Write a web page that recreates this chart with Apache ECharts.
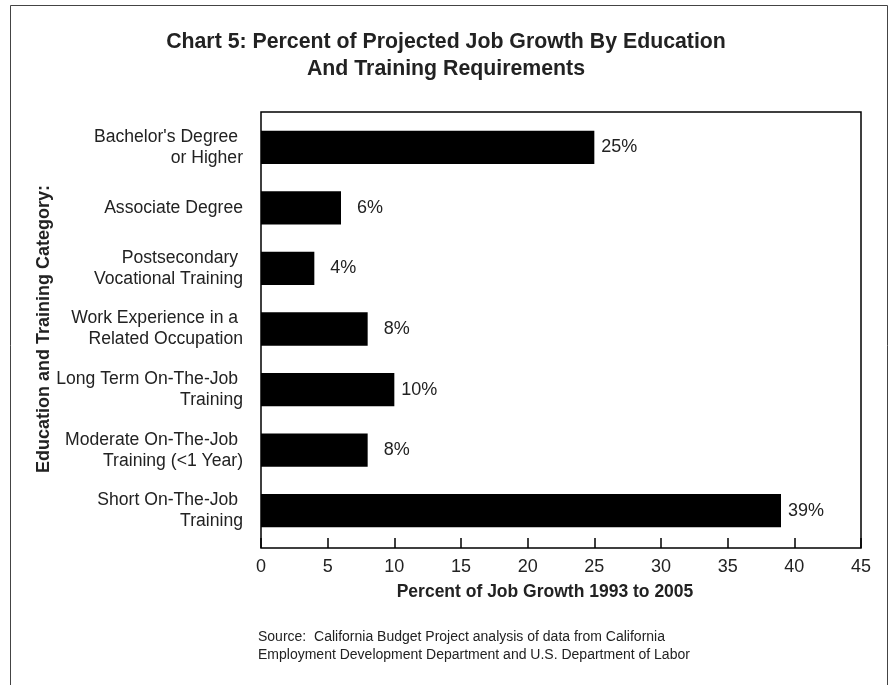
<!DOCTYPE html>
<html>
<head>
<meta charset="utf-8">
<script src="https://cdn.jsdelivr.net/npm/echarts@6/dist/echarts.min.js"></script>
<style>
html,body{margin:0;padding:0;background:#fff;}
#chart{width:892px;height:685px;}
</style>
</head>
<body>
<div id="chart"></div>
<script>
const titleText = "Chart 5: Percent of Projected Job Growth By Education\nAnd Training Requirements";
const categories = [
  "Bachelor's Degree \nor Higher",
  "Associate Degree",
  "Postsecondary \nVocational Training",
  "Work Experience in a \nRelated Occupation",
  "Long Term On-The-Job \nTraining",
  "Moderate On-The-Job \nTraining (<1 Year)",
  "Short On-The-Job \nTraining"
];
const values = [25, 6, 4, 8, 10, 8, 39];
const xTicks = { min: 0, max: 45, interval: 5 };
const xAxisName = "Percent of Job Growth 1993 to 2005";
const yAxisName = "Education and Training Category:";
const sourceText = "Source:  California Budget Project analysis of data from California\nEmployment Development Department and U.S. Department of Labor";

const FONT = "'Liberation Sans', Arial, Helvetica, sans-serif";
const TXT = "#222";

const chart = echarts.init(document.getElementById('chart'), null, {renderer: 'canvas'});
chart.setOption({
  backgroundColor: '#fff',
  animation: false,
  title: [
    {
      text: titleText,
      left: 'center',
      top: 24,
      padding: [5, 5, 5, 11],
      textStyle: {fontFamily: FONT, fontSize: 21.3, fontWeight: 'bold', color: TXT, lineHeight: 27, align: 'center'}
    },
    {
      text: sourceText,
      left: 253,
      top: 623,
      textStyle: {fontFamily: FONT, fontSize: 14, fontWeight: 'normal', color: TXT, lineHeight: 18}
    }
  ],
  graphic: [
    {
      type: 'rect',
      silent: true,
      shape: {x: 10.5, y: 5.5, width: 877, height: 720},
      style: {fill: 'none', stroke: '#444', lineWidth: 1}
    }
  ],
  grid: [
    {left: 261, width: 600, top: 117, height: 424, containLabel: false},
    {left: 261, width: 600, top: 112, height: 436, show: true, borderColor: '#000', borderWidth: 1.5, backgroundColor: 'transparent'}
  ],
  xAxis: [{
    type: 'value',
    gridIndex: 0,
    min: xTicks.min, max: xTicks.max, interval: xTicks.interval,
    offset: 7,
    axisLine: {show: false},
    axisTick: {show: true, inside: true, length: 10, lineStyle: {color: '#000', width: 1.5}},
    splitLine: {show: false},
    axisLabel: {fontFamily: FONT, fontSize: 18, color: TXT, margin: 10},
    name: xAxisName,
    nameLocation: 'middle',
    nameGap: 35,
    nameMoveOverlap: false,
    nameTextStyle: {fontFamily: FONT, fontSize: 17.5, fontWeight: 'bold', color: TXT, padding: [0, 32, 0, 0]}
  }],
  yAxis: [{
    type: 'category',
    gridIndex: 0,
    data: categories,
    inverse: true,
    axisLine: {show: false},
    axisTick: {show: false},
    splitLine: {show: false},
    axisLabel: {fontFamily: FONT, fontSize: 17.6, color: TXT, margin: 18, lineHeight: 21, align: 'right'},
    name: yAxisName,
    nameLocation: 'middle',
    nameRotate: 90,
    nameGap: 208,
    nameMoveOverlap: false,
    nameTextStyle: {fontFamily: FONT, fontSize: 18, fontWeight: 'bold', color: TXT}
  }],
  series: [{
    type: 'bar',
    xAxisIndex: 0,
    yAxisIndex: 0,
    data: values.map(v => ({
      value: v,
      label: {distance: v < 10 ? 16 : 7}
    })),
    barWidth: '55%',
    itemStyle: {color: '#000'},
    label: {
      show: true,
      position: 'right',
      formatter: p => p.value + '%',
      fontFamily: FONT,
      fontSize: 18,
      color: TXT
    }
  }]
});
</script>
</body>
</html>
